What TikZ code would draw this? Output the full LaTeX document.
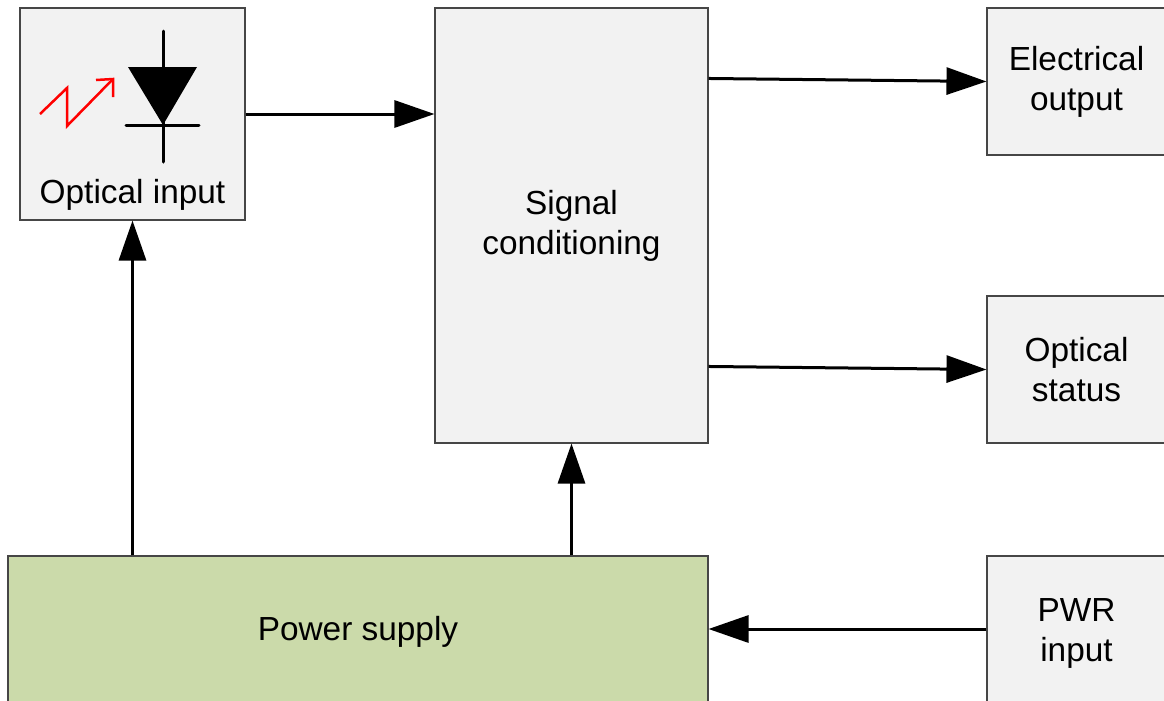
\documentclass[tikz,border=0pt]{standalone}
\usepackage{fontspec}
\setmainfont{Liberation Sans}
\usepackage{tikz}
\usetikzlibrary{arrows.meta}

\definecolor{boxgray}{RGB}{242,242,242}
\definecolor{psgreen}{RGB}{203,218,170}
\definecolor{edgegray}{RGB}{70,70,70}

\begin{document}
\begin{tikzpicture}[-{Triangle[length=0.8cm,width=0.54cm]},line width=0.06cm,
                    font=\fontsize{19}{22.8}\selectfont]
  \tikzstyle{block}=[draw=edgegray,line width=0.6pt,fill=boxgray,align=center,inner sep=0pt]
  \tikzstyle{sym}=[-,line width=0.06cm,line cap=round]

  \useasboundingbox (0,0) rectangle (23.28,-14.02);

  \node[block,minimum width=4.5cm,minimum height=4.24cm]   (optin)  at (2.65,-2.28)  {};
  \node                                                   (optlbl) at (2.65,-3.9)   {Optical input};
  \node[block,minimum width=5.46cm,minimum height=8.7cm]   (sig)    at (11.43,-4.51) {Signal\\conditioning};
  \node[block,minimum width=3.58cm,minimum height=2.94cm,text width=3.4cm] (elec) at (21.53,-1.63) {Electrical\\output};
  \node[block,minimum width=3.58cm,minimum height=2.94cm,text width=3.4cm] (stat) at (21.53,-7.39) {Optical\\status};
  \node[block,minimum width=3.58cm,minimum height=3.1cm,text width=3.4cm]  (pwrin) at (21.53,-12.67) {PWR\\input};
  \node[block,fill=psgreen,minimum width=14cm,minimum height=3.1cm] (pwr) at (7.16,-12.67) {};
  \node                                                   (pwrlbl) at (7.16,-12.64) {Power supply};

  % photodiode
  \coordinate (dtop) at (3.26,-0.62);
  \coordinate (dbot) at (3.26,-3.24);
  \draw[sym] (dtop) -- (dbot);
  \fill (2.56,-1.34) -- (3.94,-1.34) -- (3.26,-2.5) -- cycle;
  \draw[sym] (2.52,-2.5) -- (3.98,-2.5);

  % light
  \draw[-,red,line width=0.05cm,line join=miter]
        (0.8,-2.28) -- (1.34,-1.76) -- (1.34,-2.52) -- (2.26,-1.58);
  \draw[-,red,line width=0.05cm] (1.92,-1.6) -- (2.26,-1.58) -- (2.26,-1.94);

  \draw (optin.east) -- (optin.east -| sig.west);
  \draw ([yshift=-1.42cm]sig.north east) -- (elec.west);
  \draw ([yshift=-7.18cm]sig.north east) -- (stat.west);
  \draw (pwr.north -| optin.south) -- (optin.south);
  \draw (pwr.north -| sig.south) -- (sig.south);
  \draw ([yshift=0.09cm]pwrin.west) -- ([yshift=0.09cm]pwrin.west -| pwr.east);
\end{tikzpicture}
\end{document}
